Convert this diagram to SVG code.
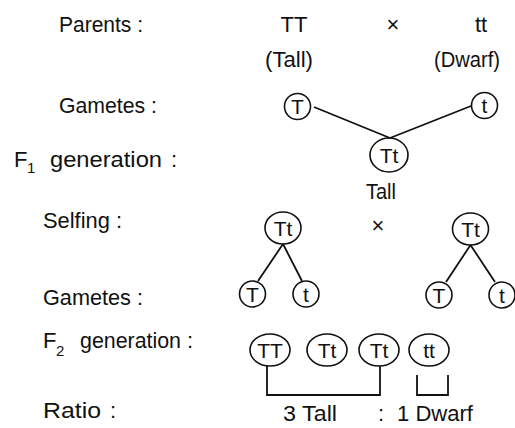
<svg xmlns="http://www.w3.org/2000/svg" width="515" height="428" viewBox="0 0 515 428">
<style>
text{font-family:"Liberation Sans","DejaVu Sans",sans-serif;font-size:22px;fill:#111}
.c{text-anchor:middle}
.n{font-size:21px;text-anchor:middle}
.sub{font-size:15px}
.o{fill:none;stroke:#111;stroke-width:1.6}
.l{fill:none;stroke:#111;stroke-width:1.8}
</style>
<rect width="515" height="428" fill="#fff"/>
<g id="labels">
<text x="59" y="32" textLength="84" lengthAdjust="spacingAndGlyphs">Parents :</text>
<text x="59" y="113" textLength="98" lengthAdjust="spacingAndGlyphs">Gametes :</text>
<text x="14" y="167">F</text><text class="sub" x="27" y="173">1</text><text x="50" y="167" textLength="112" lengthAdjust="spacingAndGlyphs">generation</text><text x="171" y="167">:</text>
<text x="43" y="228" textLength="79" lengthAdjust="spacingAndGlyphs">Selfing :</text>
<text x="43" y="305" textLength="100" lengthAdjust="spacingAndGlyphs">Gametes :</text>
<text x="43" y="348">F</text><text class="sub" x="56" y="356">2</text><text x="80" y="348" textLength="101" lengthAdjust="spacingAndGlyphs">generation</text><text x="187" y="348">:</text>
<text x="43" y="418" textLength="58" lengthAdjust="spacingAndGlyphs">Ratio</text><text x="110" y="418">:</text>
</g>
<g id="parents">
<text class="c" x="294" y="32">TT</text>
<text class="c" x="393" y="32">×</text>
<text class="c" x="481" y="32">tt</text>
<text x="265" y="67" textLength="48" lengthAdjust="spacingAndGlyphs">(Tall)</text>
<text x="434" y="67" textLength="66" lengthAdjust="spacingAndGlyphs">(Dwarf)</text>
</g>
<g id="g1-T"><circle class="o" cx="297.5" cy="106.5" r="13"/><text class="n" x="297.5" y="114">T</text></g>
<g id="g1-t"><circle class="o" cx="484.5" cy="105.5" r="13"/><text class="n" x="484.5" y="113">t</text></g>
<g id="f1"><ellipse class="o" cx="389" cy="155" rx="19" ry="17"/><text class="n" x="389" y="162.5">Tt</text><text x="366" y="199" textLength="30" lengthAdjust="spacingAndGlyphs">Tall</text></g>
<g id="self-left"><ellipse class="o" cx="283" cy="228" rx="18" ry="16"/><text class="n" x="283" y="235.5">Tt</text></g>
<text class="c" x="378" y="233">×</text>
<g id="self-right"><ellipse class="o" cx="470.5" cy="229" rx="18" ry="16"/><text class="n" x="470.5" y="236.5">Tt</text></g>
<g id="g2-T1"><circle class="o" cx="252.5" cy="294" r="13"/><text class="n" x="252.5" y="301.5">T</text></g>
<g id="g2-t1"><circle class="o" cx="306" cy="294" r="13"/><text class="n" x="306" y="301.5">t</text></g>
<g id="g2-T2"><circle class="o" cx="439" cy="295" r="13"/><text class="n" x="439" y="302.5">T</text></g>
<g id="g2-t2"><circle class="o" cx="502" cy="295" r="13"/><text class="n" x="502" y="302.5">t</text></g>
<g id="f2-TT"><ellipse class="o" cx="270" cy="350" rx="20" ry="16"/><text class="n" x="270" y="357.5">TT</text></g>
<g id="f2-Tt1"><ellipse class="o" cx="327" cy="350" rx="20" ry="16"/><text class="n" x="327" y="357.5">Tt</text></g>
<g id="f2-Tt2"><ellipse class="o" cx="379" cy="350" rx="20" ry="16"/><text class="n" x="379" y="357.5">Tt</text></g>
<g id="f2-tt"><ellipse class="o" cx="429" cy="350" rx="20" ry="16"/><text class="n" x="429" y="357.5">tt</text></g>
<g id="connectors">
<path class="l" d="M314 107 L390 138 M471 106 L390 138"/>
<path class="l" d="M283 244 L258 281 M283 244 L302 281"/>
<path class="l" d="M470.5 245 L446 282 M470.5 245 L495 282"/>
<path class="l" d="M267 366 V395 H380 V366"/>
<path class="l" d="M417 375 V395 H448 V375"/>
</g>
<g id="ratio">
<text x="283" y="421" textLength="54" lengthAdjust="spacingAndGlyphs">3 Tall</text>
<text x="378" y="421">:</text>
<text x="397" y="421" textLength="76" lengthAdjust="spacingAndGlyphs">1 Dwarf</text>
</g>
</svg>
